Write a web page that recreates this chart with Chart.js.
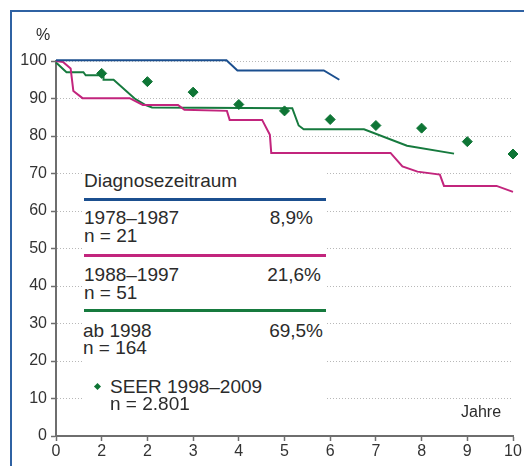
<!DOCTYPE html>
<html>
<head>
<meta charset="utf-8">
<script src="https://cdn.jsdelivr.net/npm/chart.js@4"></script>
<style>
  body { margin: 0; background: #fff; overflow: hidden; font-family: "Liberation Sans", Arial, sans-serif; color: #2b2b2b; }
  #wrap { position: relative; width: 524px; height: 466px; overflow: hidden; }
  #frame { position: absolute; left: 10px; top: 10px; width: 600px; height: 600px; border-left: 2px solid #2f62a3; border-top: 2px solid #2f62a3; }
  canvas { position: absolute; left: 0; top: 0; }
  #box { position: absolute; left: 82px; top: 163px; width: 244px; height: 262px; background: #fff; }
  .t { position: absolute; font-size: 19px; line-height: 18px; white-space: nowrap; }
  .pct { text-align: right; }
  .ln { position: absolute; left: 84px; width: 242px; height: 3px; }
  .small { position: absolute; font-size: 16px; line-height: 16px; white-space: nowrap; }
  #dia { position: absolute; left: 95px; top: 384px; width: 5px; height: 5px; background: #0e7535; transform: rotate(45deg); }
</style>
</head>
<body>
<div id="wrap">
  <div id="frame"></div>
  <canvas id="chart" width="524" height="466"></canvas>
  <div id="box"></div>
  <div class="small" style="left:36px;top:27px">%</div>
  <div class="small" style="left:461px;top:404px">Jahre</div>

  <div class="t" style="left:84px;top:172px">Diagnosezeitraum</div>
  <div class="ln" style="top:198px;background:#1b4f8f"></div>
  <div class="t" style="left:84px;top:209px">1978–1987</div>
  <div class="t pct" style="left:213px;width:100px;top:209px">8,9%</div>
  <div class="t" style="left:84px;top:227px">n = 21</div>

  <div class="ln" style="top:254px;background:#c2257d"></div>
  <div class="t" style="left:84px;top:266px">1988–1997</div>
  <div class="t pct" style="left:221px;width:100px;top:266px">21,6%</div>
  <div class="t" style="left:84px;top:284px">n = 51</div>

  <div class="ln" style="top:309px;background:#167a3e"></div>
  <div class="t" style="left:83px;top:322px">ab 1998</div>
  <div class="t pct" style="left:223px;width:100px;top:322px">69,5%</div>
  <div class="t" style="left:83px;top:339px">n = 164</div>

  <div id="dia"></div>
  <div class="t" style="left:110px;top:378px">SEER 1998–2009</div>
  <div class="t" style="left:110px;top:395px">n = 2.801</div>
</div>
<script>
// x tick labels as printed in the figure (second one really reads "2")
var xTickLabels = ['0', '2', '2', '3', '4', '5', '6', '7', '8', '9', '10'];

// Diagnosezeitraum 1978-1987
var years1978 = [0, 3.73, 3.97, 5.86, 6.2];
var surv1978 = [100.2, 100.2, 97.5, 97.5, 95];

// Diagnosezeitraum 1988-1997
var years1988 = [0, 0.16, 0.32, 0.38, 0.58, 1.61, 1.9, 2.67, 2.81, 3.74, 3.8, 4.51, 4.68, 4.71, 7.32, 7.58, 7.91, 8.4, 8.49, 9.64, 10];
var surv1988 = [100, 99.7, 98, 92, 90.1, 90.1, 88.3, 88.3, 87, 86.7, 84.3, 84.3, 80.3, 75.5, 75.5, 71.9, 70.5, 69.7, 66.7, 66.7, 65.1];

// ab 1998
var years1998 = [0, 0.23, 0.6, 0.65, 1.04, 1.04, 1.26, 1.72, 1.95, 2.1, 5.17, 5.31, 5.42, 6.74, 7.68, 8.71];
var surv1998 = [99.6, 97, 97, 96.2, 96.2, 95, 95, 90, 88.3, 87.6, 87.4, 82.8, 81.8, 81.8, 77.4, 75.3];

// SEER 1998-2009
var seerYears = [1, 2, 3, 4, 5, 6, 7, 8, 9, 10];
var seerSurv = [96.7, 94.5, 91.7, 88.4, 86.7, 84.4, 82.8, 82.1, 78.5, 75.2];

function pts(xs, ys) {
  return xs.map(function (x, i) { return {x: x, y: ys[i]}; });
}

function curve(xs, ys, color) {
  return {
    data: pts(xs, ys),
    borderColor: color,
    borderWidth: 2,
    pointRadius: 0,
    fill: false,
    tension: 0,
    clip: false
  };
}

var tickFont = {family: 'Liberation Sans', size: 16};

new Chart(document.getElementById('chart'), {
  type: 'line',
  data: {
    datasets: [
      {
        data: pts(seerYears, seerSurv),
        showLine: false,
        pointStyle: 'rectRot',
        pointRadius: 5,
        pointBackgroundColor: '#0e7535',
        pointBorderColor: '#0e7535',
        pointBorderWidth: 1,
        clip: false
      },
      curve(years1978, surv1978, '#1b4f8f'),
      curve(years1988, surv1988, '#c2257d'),
      curve(years1998, surv1998, '#167a3e')
    ]
  },
  options: {
    responsive: false,
    animation: false,
    devicePixelRatio: 1,
    layout: {padding: {top: 61, right: 11, left: 0, bottom: 0}},
    plugins: {legend: {display: false}, tooltip: {enabled: false}},
    scales: {
      x: {
        type: 'linear',
        min: 0,
        max: 10,
        afterFit: function (scale) { scale.height = 30; },
        afterTickToLabelConversion: function (scale) {
          // labels straight from the array; the 2nd/3rd both read "2"
          scale.ticks.forEach(function (t, i) {
            t.label = i === 2 ? [xTickLabels[i]] : xTickLabels[i];
          });
        },
        ticks: {
          stepSize: 1,
          padding: 1,
          color: '#333',
          font: tickFont,
          maxRotation: 0,
          autoSkip: false
        },
        grid: {drawOnChartArea: false, drawTicks: true, tickLength: 5, tickColor: '#6e6e6e', tickWidth: 1.5},
        border: {color: '#6e6e6e', width: 2}
      },
      y: {
        min: 0,
        max: 100,
        afterFit: function (scale) { scale.width = 56; },
        ticks: {stepSize: 10, padding: 4, color: '#333', font: tickFont},
        grid: {color: '#b8b8b8', lineWidth: 1, tickLength: 5, tickColor: '#6e6e6e', tickWidth: 1.5, tickBorderDash: []},
        border: {color: '#6e6e6e', width: 2, dash: [1, 2]}
      }
    }
  }
});
</script>
</body>
</html>
